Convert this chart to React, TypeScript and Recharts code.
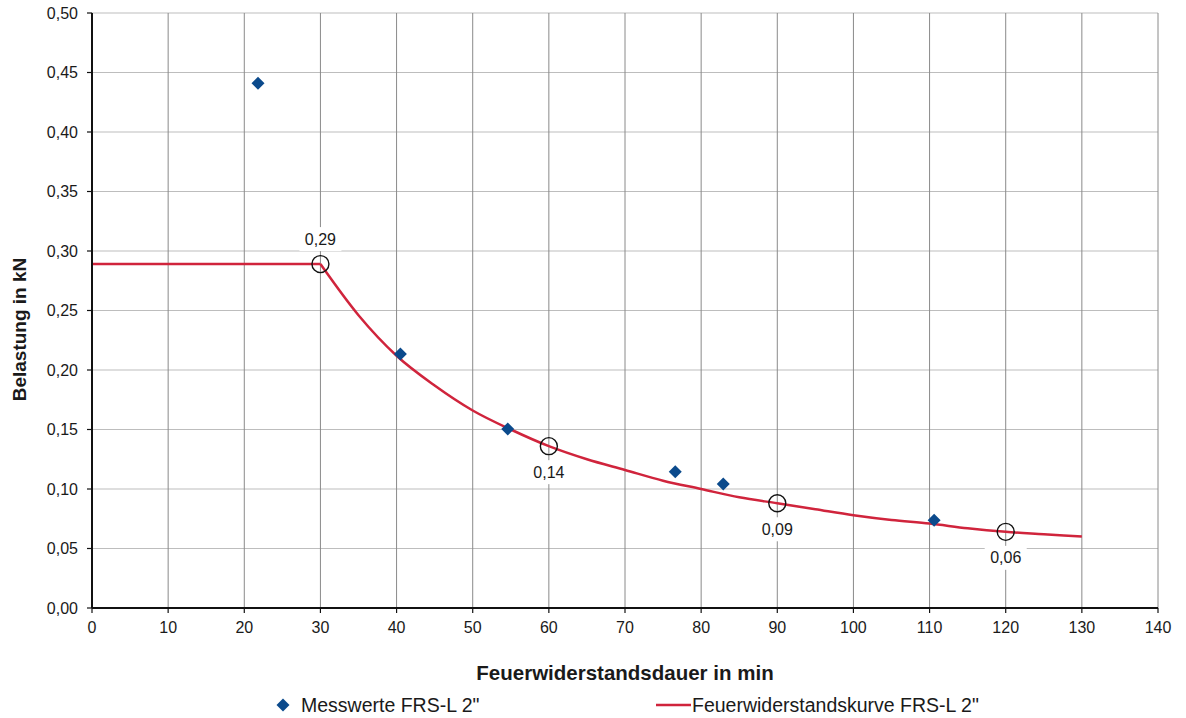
import React from 'react';
import { ComposedChart, Line, Scatter, XAxis, YAxis, CartesianGrid, Legend } from 'recharts';

// Measured values (Messwerte)
const measuredX = [21.8, 40.5, 54.6, 76.6, 82.9, 110.6];
const measuredY = [0.441, 0.2135, 0.1505, 0.1144, 0.1043, 0.0737];

// Fire resistance curve: flat part and decreasing part
const flatX = [0, 30];
const flatY = [0.289, 0.289];
const curveX = [30, 35, 40, 45, 50, 55, 60, 65, 70, 75, 80, 85, 90, 95, 100, 105, 110, 115, 120, 125, 130];
const curveY = [0.289, 0.246, 0.212, 0.187, 0.166, 0.15, 0.136, 0.125, 0.116, 0.107, 0.1, 0.093, 0.088, 0.083, 0.078, 0.074, 0.071, 0.067, 0.064, 0.062, 0.06];

// Labelled points on the curve
const markX = [30, 60, 90, 120];
const markY = [0.289, 0.136, 0.088, 0.064];
const markLabel = ['0,29', '0,14', '0,09', '0,06'];
const markAbove = [true, false, false, false];

const xTicks = [0, 10, 20, 30, 40, 50, 60, 70, 80, 90, 100, 110, 120, 130, 140];
const yTicks = [0, 0.05, 0.1, 0.15, 0.2, 0.25, 0.3, 0.35, 0.4, 0.45, 0.5];

const measuredData = measuredX.map((x, i) => ({ x, y: measuredY[i] }));
const flatData = flatX.map((x, i) => ({ x, y: flatY[i] }));
const curveData = curveX.map((x, i) => ({ x, y: curveY[i] }));
const markData = markX.map((x, i) => ({ x, y: markY[i], label: markLabel[i], above: markAbove[i] }));

const FONT = '"Liberation Sans", Arial, sans-serif';
const RED = '#d0243c';
const BLUE = '#0b4a8c';
const TEXT = '#1a1a1a';

const Diamond = (props: any) => {
  const { cx, cy } = props;
  if (cx == null || cy == null) return null;
  const s = 6.5;
  return <polygon points={`${cx},${cy - s} ${cx + s},${cy} ${cx},${cy + s} ${cx - s},${cy}`} fill={BLUE} />;
};

const MarkShape = (props: any) => {
  const { cx, cy, payload } = props;
  if (cx == null || cy == null) return null;
  const ly = payload.above ? cy - 25 : cy + 26;
  return (
    <g>
      <circle cx={cx} cy={cy} r={8.5} fill="none" stroke="#111" strokeWidth={1.4} />
      <rect x={cx - 21} y={ly - 12} width={42} height={24} fill="#fff" />
      <text x={cx} y={ly} textAnchor="middle" dominantBaseline="central" fontSize={16} fontFamily={FONT} fill={TEXT}>
        {payload.label}
      </text>
    </g>
  );
};

const fmtY = (v: number) => v.toFixed(2).replace('.', ',');

const XTitle = (props: any) => {
  const vb = props.viewBox;
  return (
    <text x={vb.x + vb.width / 2} y={vb.y + 64} textAnchor="middle" dominantBaseline="central" fontSize={20.5} fontWeight="bold" fontFamily={FONT} fill={TEXT}>
      Feuerwiderstandsdauer in min
    </text>
  );
};

const YTitle = (props: any) => {
  const vb = props.viewBox;
  const cx = 19;
  const cy = vb.y + vb.height / 2 + 19;
  return (
    <text x={cx} y={cy} transform={`rotate(-90, ${cx}, ${cy})`} textAnchor="middle" dominantBaseline="central" fontSize={19} fontWeight="bold" fontFamily={FONT} fill={TEXT}>
      Belastung in kN
    </text>
  );
};

const LegendContent = () => (
  <div style={{ position: 'relative', width: 1186, height: 26, fontFamily: FONT, fontSize: 19.5, color: TEXT }}>
    <svg style={{ position: 'absolute', left: 276, top: 6 }} width={14} height={14}>
      <polygon points="7,0.5 13.5,7 7,13.5 0.5,7" fill={BLUE} />
    </svg>
    <span style={{ position: 'absolute', left: 301, top: 1, whiteSpace: 'nowrap', lineHeight: '24px' }}>Messwerte FRS-L 2"</span>
    <svg style={{ position: 'absolute', left: 656, top: 11 }} width={36} height={4}>
      <line x1={0} y1={2} x2={35} y2={2} stroke={RED} strokeWidth={2.5} />
    </svg>
    <span style={{ position: 'absolute', left: 692, top: 1, whiteSpace: 'nowrap', lineHeight: '24px' }}>Feuerwiderstandskurve FRS-L 2"</span>
  </div>
);

export default function App() {
  return (
    <div style={{ position: 'absolute', left: 0, top: 0, width: 1186, height: 718, background: '#fff' }}>
      <ComposedChart width={1186} height={718} margin={{ top: 13, right: 28, left: 0, bottom: 0 }}>
        <CartesianGrid vertical={false} stroke="#bdbdbd" strokeWidth={1} />
        <CartesianGrid horizontal={false} stroke="#8a8a8a" strokeWidth={1} />
        <XAxis
          type="number"
          dataKey="x"
          domain={[0, 140]}
          ticks={xTicks}
          allowDataOverflow
          height={84}
          tickSize={5}
          tickMargin={9}
          axisLine={{ stroke: '#111', strokeWidth: 2 }}
          tickLine={{ stroke: '#111', strokeWidth: 1.2 }}
          tick={{ fontSize: 16, fontFamily: FONT, fill: TEXT }}
          label={<XTitle />}
        />
        <YAxis
          type="number"
          dataKey="y"
          domain={[0, 0.5]}
          ticks={yTicks}
          allowDataOverflow
          width={92}
          tickSize={5}
          tickMargin={9}
          tickFormatter={fmtY}
          axisLine={{ stroke: '#111', strokeWidth: 2 }}
          tickLine={{ stroke: '#111', strokeWidth: 1.2 }}
          tick={{ fontSize: 16, fontFamily: FONT, fill: TEXT }}
          label={<YTitle />}
        />
        <Line data={flatData} dataKey="y" type="linear" stroke={RED} strokeWidth={2.5} dot={false} activeDot={false} isAnimationActive={false} legendType="none" />
        <Line data={curveData} dataKey="y" type="monotone" stroke={RED} strokeWidth={2.5} dot={false} activeDot={false} isAnimationActive={false} name='Feuerwiderstandskurve FRS-L 2"' />
        <Scatter data={markData} dataKey="y" shape={<MarkShape />} isAnimationActive={false} legendType="none" />
        <Scatter data={measuredData} dataKey="y" shape={<Diamond />} isAnimationActive={false} name='Messwerte FRS-L 2"' />
        <Legend verticalAlign="bottom" align="left" content={<LegendContent />} wrapperStyle={{ height: 26 }} />
      </ComposedChart>
    </div>
  );
}
